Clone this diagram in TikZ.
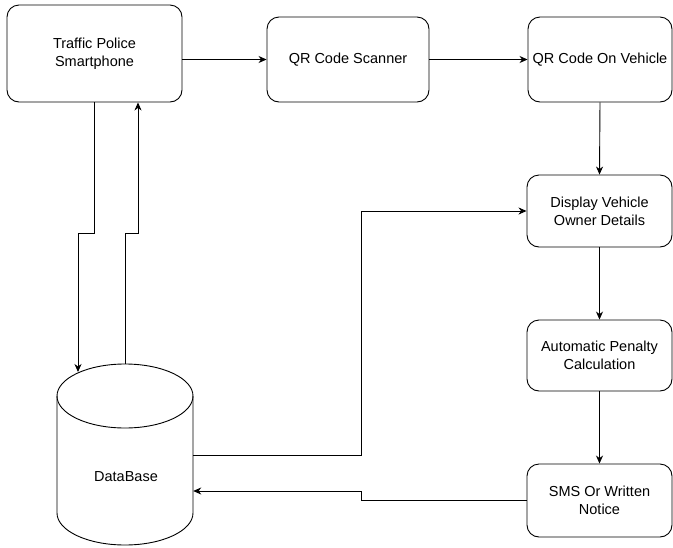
\documentclass[tikz,border=0pt]{standalone}
\usepackage{fontspec}
\setmainfont{Liberation Sans}
\usetikzlibrary{arrows.meta}
\begin{document}
\begin{tikzpicture}[x=1pt,y=-1pt,
  box/.style={draw=black, line width=0.9pt, rounded corners=12pt, align=center, inner sep=0pt,
    font=\fontsize{14.5pt}{18pt}\selectfont},
  line/.style={draw=black, line width=0.9pt},
  arr/.style={line, -{Stealth[length=8pt,width=7pt,inset=2.5pt]}}]
\useasboundingbox (0,0) rectangle (673,547);
% boxes
\node[box, minimum width=175pt, minimum height=97pt] (smart) at (94.5,53.5) {Traffic Police\\Smartphone};
\node[box, minimum width=162pt, minimum height=85pt] (scan) at (348,59.5) {QR Code Scanner};
\node[box, minimum width=144pt, minimum height=85pt] (qrv) at (600,59.5) {QR Code On Vehicle};
\node[box, minimum width=145pt, minimum height=72pt] (disp) at (599.5,211) {Display Vehicle\\Owner Details};
\node[box, minimum width=145pt, minimum height=71pt] (pen) at (599.5,355.5) {Automatic Penalty\\Calculation};
\node[box, minimum width=145pt, minimum height=73pt] (sms) at (599.5,500.5) {SMS Or Written\\Notice};
% database cylinder
\draw[line] (57,396) -- (57,513) arc[start angle=180, end angle=360, x radius=68pt, y radius=32pt]
  -- (193,396) arc[start angle=0, end angle=180, x radius=68pt, y radius=32pt] -- cycle;
\draw[line] (57,396) arc[start angle=180, end angle=360, x radius=68pt, y radius=32pt];
\node[inner sep=0pt, minimum width=136pt, minimum height=181pt] (db) at (125,454.5) {};
\node[font=\fontsize{14.5pt}{18pt}\selectfont] (dblabel) at (126,477) {DataBase};
\coordinate (dbin) at (78,372);
% connectors
\draw[arr] (smart.east |- scan.west) -- (scan.west);
\draw[arr] (scan.east) -- (qrv.west);
\draw[arr] (qrv.south) -- (disp.north);
\draw[arr] (disp.south) -- (pen.north);
\draw[arr] (pen.south) -- (sms.north);
\draw[arr] (smart.south -| 94,0) -- (94,233) -- (78,233) -- (dbin);
\draw[arr] (db.north) -- (125,233) -- (138,233) -- (smart.south -| 138,0);
\draw[arr] (db.east |- 0,455) -- (361,455) |- (disp.west);
\draw[arr] (sms.west) -- (361,500.5) -- (361,491) -- (db.east |- 0,491);
\end{tikzpicture}
\end{document}
